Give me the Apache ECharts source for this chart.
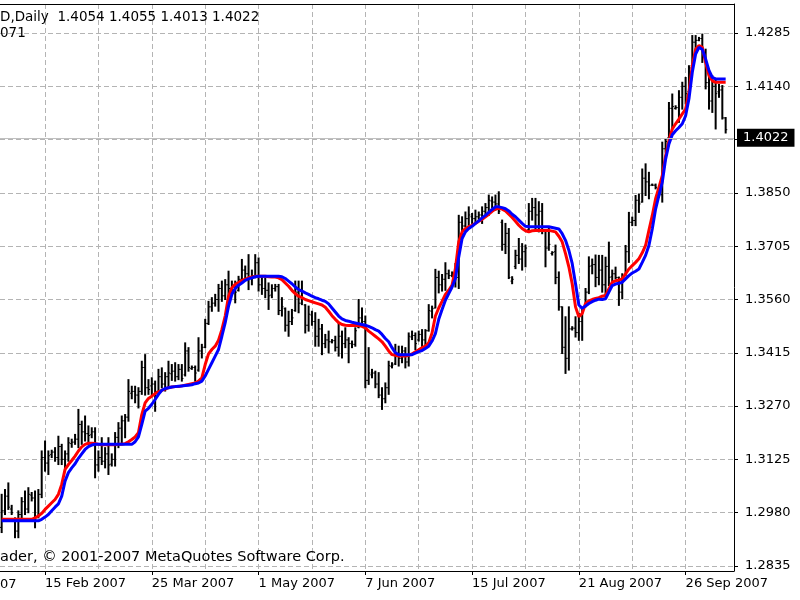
<!DOCTYPE html>
<html><head><meta charset="utf-8">
<script src="https://cdn.jsdelivr.net/npm/echarts@6/dist/echarts.min.js"></script>
<style>html,body{margin:0;padding:0;background:#fff}#c{width:800px;height:600px}</style>
</head><body><div id="c"></div>
<script>
// ---- data (EURUSD daily) ----
const opens = [
1.2940,1.2985,1.3025,1.2990,1.2960,1.2930,1.2975,1.3010,1.2990,1.3028,
1.3020,1.2970,1.3030,1.3130,1.3115,1.3138,1.3145,1.3130,1.3160,1.3125,
1.3140,1.3168,1.3172,1.3180,1.3220,1.3200,1.3195,1.3192,1.3200,1.3110,
1.3130,1.3120,1.3140,1.3112,1.3125,1.3185,1.3210,1.3230,1.3240,1.3305,
1.3310,1.3300,1.3310,1.3375,1.3320,1.3325,1.3330,1.3310,1.3350,1.3330,
1.3350,1.3358,1.3365,1.3350,1.3370,1.3355,1.3420,1.3372,1.3375,1.3368,
1.3420,1.3430,1.3495,1.3540,1.3550,1.3560,1.3590,1.3570,1.3600,1.3590,
1.3598,1.3585,1.3615,1.3640,1.3630,1.3618,1.3625,1.3660,1.3600,1.3590,
1.3585,1.3572,1.3590,1.3595,1.3530,1.3535,1.3490,1.3500,1.3530,1.3580,
1.3550,1.3545,1.3490,1.3518,1.3500,1.3460,1.3480,1.3440,1.3450,1.3445,
1.3448,1.3430,1.3460,1.3440,1.3450,1.3440,1.3438,1.3485,1.3510,1.3500,
1.3340,1.3355,1.3360,1.3330,1.3300,1.3290,1.3320,1.3378,1.3385,1.3410,
1.3400,1.3420,1.3390,1.3458,1.3462,1.3450,1.3465,1.3450,1.3475,1.3528,
1.3537,1.3620,1.3600,1.3615,1.3630,1.3625,1.3630,1.3620,1.3770,1.3760,
1.3780,1.3785,1.3780,1.3785,1.3790,1.3800,1.3810,1.3828,1.3825,1.3820,
1.3770,1.3710,1.3740,1.3610,1.3650,1.3680,1.3670,1.3690,1.3750,1.3800,
1.3810,1.3790,1.3800,1.3748,1.3700,1.3685,1.3690,1.3620,1.3540,1.3430,
1.3400,1.3480,1.3482,1.3470,1.3500,1.3540,1.3580,1.3652,1.3655,1.3620,
1.3640,1.3600,1.3650,1.3622,1.3630,1.3620,1.3580,1.3625,1.3690,1.3770,
1.3775,1.3830,1.3825,1.3890,1.3880,1.3872,1.3871,1.3860,1.3845,1.3970,
1.4000,1.4080,1.4080,1.4082,1.4110,1.4140,1.4125,1.4196,1.4260,1.4265,
1.4270,1.4220,1.4150,1.4100,1.4140,1.4125,1.4130,1.4054];
const highs = [
1.3030,1.3043,1.3061,1.3000,1.2966,1.2985,1.3021,1.3039,1.3048,1.3035,
1.3039,1.3043,1.3148,1.3175,1.3148,1.3150,1.3157,1.3188,1.3166,1.3148,
1.3184,1.3180,1.3193,1.3261,1.3229,1.3243,1.3216,1.3211,1.3211,1.3148,
1.3184,1.3157,1.3184,1.3140,1.3198,1.3225,1.3243,1.3247,1.3342,1.3324,
1.3324,1.3320,1.3392,1.3410,1.3342,1.3347,1.3338,1.3370,1.3374,1.3361,
1.3392,1.3383,1.3388,1.3383,1.3383,1.3442,1.3429,1.3379,1.3379,1.3456,
1.3438,1.3506,1.3555,1.3565,1.3574,1.3601,1.3610,1.3614,1.3637,1.3610,
1.3610,1.3623,1.3669,1.3651,1.3682,1.3640,1.3682,1.3673,1.3623,1.3619,
1.3605,1.3600,1.3601,1.3601,1.3565,1.3537,1.3528,1.3533,1.3610,1.3610,
1.3610,1.3546,1.3542,1.3528,1.3524,1.3506,1.3492,1.3465,1.3474,1.3451,
1.3460,1.3497,1.3474,1.3483,1.3456,1.3447,1.3483,1.3560,1.3537,1.3515,
1.3429,1.3370,1.3365,1.3361,1.3320,1.3333,1.3392,1.3388,1.3438,1.3433,
1.3433,1.3429,1.3469,1.3474,1.3469,1.3474,1.3478,1.3478,1.3546,1.3542,
1.3642,1.3637,1.3628,1.3660,1.3640,1.3635,1.3658,1.3789,1.3785,1.3798,
1.3812,1.3794,1.3803,1.3798,1.3812,1.3821,1.3844,1.3839,1.3844,1.3853,
1.3776,1.3767,1.3753,1.3622,1.3694,1.3726,1.3712,1.3708,1.3821,1.3835,
1.3835,1.3826,1.3821,1.3748,1.3758,1.3690,1.3708,1.3635,1.3540,1.3513,
1.3540,1.3486,1.3513,1.3522,1.3536,1.3590,1.3676,1.3670,1.3681,1.3680,
1.3680,1.3675,1.3716,1.3640,1.3648,1.3621,1.3630,1.3707,1.3797,1.3784,
1.3843,1.3847,1.3915,1.3929,1.3906,1.3874,1.3874,1.3861,1.3988,1.3997,
1.4096,1.4119,1.4087,1.4128,1.4151,1.4164,1.4196,1.4278,1.4278,1.4273,
1.4282,1.4241,1.4178,1.4169,1.4160,1.4145,1.4142,1.4055];
const lows = [
1.2926,1.2975,1.2989,1.2975,1.2912,1.2912,1.2962,1.2975,1.2980,1.3012,
1.2939,1.2966,1.3021,1.3093,1.3084,1.3130,1.3120,1.3111,1.3111,1.3102,
1.3120,1.3158,1.3166,1.3157,1.3166,1.3175,1.3166,1.3184,1.3075,1.3093,
1.3111,1.3102,1.3084,1.3107,1.3107,1.3157,1.3166,1.3184,1.3229,1.3290,
1.3279,1.3265,1.3302,1.3300,1.3302,1.3300,1.3256,1.3302,1.3320,1.3311,
1.3320,1.3340,1.3338,1.3342,1.3338,1.3352,1.3365,1.3370,1.3338,1.3365,
1.3401,1.3429,1.3492,1.3528,1.3542,1.3528,1.3555,1.3560,1.3542,1.3574,
1.3551,1.3583,1.3610,1.3614,1.3587,1.3600,1.3619,1.3583,1.3574,1.3565,
1.3533,1.3565,1.3583,1.3519,1.3515,1.3474,1.3460,1.3492,1.3528,1.3524,
1.3546,1.3469,1.3474,1.3490,1.3433,1.3433,1.3410,1.3429,1.3415,1.3442,
1.3420,1.3406,1.3401,1.3429,1.3388,1.3429,1.3433,1.3483,1.3492,1.3320,
1.3329,1.3347,1.3320,1.3293,1.3261,1.3279,1.3302,1.3374,1.3383,1.3379,
1.3388,1.3374,1.3379,1.3451,1.3424,1.3447,1.3424,1.3429,1.3474,1.3510,
1.3537,1.3578,1.3583,1.3585,1.3617,1.3622,1.3594,1.3590,1.3726,1.3758,
1.3758,1.3767,1.3771,1.3776,1.3767,1.3785,1.3789,1.3810,1.3803,1.3794,
1.3694,1.3685,1.3617,1.3603,1.3644,1.3658,1.3640,1.3649,1.3748,1.3776,
1.3748,1.3744,1.3739,1.3649,1.3694,1.3681,1.3603,1.3531,1.3413,1.3359,
1.3368,1.3477,1.3458,1.3449,1.3449,1.3540,1.3576,1.3630,1.3595,1.3600,
1.3580,1.3571,1.3598,1.3600,1.3616,1.3544,1.3562,1.3625,1.3661,1.3761,
1.3761,1.3797,1.3825,1.3843,1.3834,1.3870,1.3861,1.3838,1.3825,1.3961,
1.3997,1.4024,1.4078,1.4042,1.4078,1.4092,1.4124,1.4196,1.4232,1.4264,
1.4205,1.4133,1.4078,1.4069,1.4024,1.4110,1.4051,1.4013];
const closes = [
1.2985,1.3025,1.2995,1.2980,1.2930,1.2975,1.3010,1.2990,1.3030,1.3020,
1.2960,1.3030,1.3130,1.3115,1.3135,1.3145,1.3130,1.3160,1.3125,1.3140,
1.3170,1.3172,1.3180,1.3220,1.3200,1.3195,1.3190,1.3200,1.3110,1.3130,
1.3120,1.3140,1.3110,1.3125,1.3185,1.3210,1.3230,1.3240,1.3310,1.3310,
1.3300,1.3310,1.3375,1.3320,1.3315,1.3330,1.3310,1.3350,1.3330,1.3350,
1.3360,1.3365,1.3350,1.3370,1.3345,1.3420,1.3375,1.3375,1.3360,1.3420,
1.3430,1.3495,1.3540,1.3550,1.3560,1.3590,1.3570,1.3600,1.3590,1.3598,
1.3580,1.3615,1.3640,1.3630,1.3620,1.3625,1.3660,1.3600,1.3590,1.3585,
1.3570,1.3590,1.3595,1.3530,1.3540,1.3490,1.3500,1.3510,1.3580,1.3550,
1.3560,1.3490,1.3520,1.3500,1.3460,1.3480,1.3440,1.3450,1.3445,1.3448,
1.3430,1.3460,1.3440,1.3450,1.3440,1.3438,1.3475,1.3510,1.3500,1.3340,
1.3360,1.3360,1.3330,1.3300,1.3290,1.3320,1.3380,1.3382,1.3410,1.3400,
1.3420,1.3390,1.3460,1.3462,1.3440,1.3465,1.3450,1.3475,1.3530,1.3535,
1.3620,1.3600,1.3615,1.3630,1.3625,1.3630,1.3620,1.3770,1.3760,1.3780,
1.3790,1.3780,1.3785,1.3790,1.3800,1.3810,1.3830,1.3825,1.3820,1.3800,
1.3710,1.3740,1.3620,1.3615,1.3680,1.3670,1.3690,1.3700,1.3800,1.3810,
1.3790,1.3800,1.3750,1.3700,1.3710,1.3688,1.3620,1.3540,1.3430,1.3400,
1.3480,1.3482,1.3470,1.3500,1.3530,1.3580,1.3650,1.3655,1.3620,1.3640,
1.3600,1.3650,1.3620,1.3630,1.3620,1.3580,1.3620,1.3690,1.3770,1.3775,
1.3830,1.3820,1.3890,1.3880,1.3870,1.3871,1.3865,1.3845,1.3970,1.3990,
1.4080,1.4085,1.4082,1.4110,1.4140,1.4120,1.4190,1.4260,1.4265,1.4270,
1.4220,1.4150,1.4100,1.4140,1.4120,1.4130,1.4054,1.4022];
const maRed = [
1.2962,1.2962,1.2962,1.2962,1.2962,1.2962,1.2962,1.2962,1.2962,1.2962,
1.2966,1.2971,1.2978,1.2989,1.2998,1.3007,1.3016,1.3030,1.3057,1.3098,
1.3111,1.3122,1.3134,1.3148,1.3159,1.3166,1.3169,1.3169,1.3168,1.3166,
1.3165,1.3165,1.3165,1.3165,1.3165,1.3166,1.3166,1.3168,1.3173,1.3179,
1.3186,1.3198,1.3247,1.3279,1.3291,1.3297,1.3304,1.3309,1.3313,1.3316,
1.3320,1.3322,1.3323,1.3323,1.3325,1.3327,1.3329,1.3331,1.3333,1.3338,
1.3347,1.3383,1.3412,1.3424,1.3433,1.3449,1.3478,1.3515,1.3569,1.3592,
1.3601,1.3606,1.3612,1.3615,1.3619,1.3621,1.3623,1.3623,1.3623,1.3623,
1.3622,1.3621,1.3621,1.3619,1.3614,1.3605,1.3596,1.3585,1.3576,1.3569,
1.3565,1.3560,1.3557,1.3554,1.3551,1.3548,1.3545,1.3539,1.3528,1.3516,
1.3506,1.3497,1.3492,1.3490,1.3489,1.3489,1.3489,1.3489,1.3487,1.3483,
1.3474,1.3467,1.3460,1.3453,1.3445,1.3433,1.3420,1.3410,1.3408,1.3406,
1.3406,1.3406,1.3408,1.3412,1.3418,1.3423,1.3429,1.3433,1.3442,1.3469,
1.3515,1.3537,1.3555,1.3574,1.3585,1.3599,1.3644,1.3717,1.3744,1.3753,
1.3758,1.3762,1.3767,1.3773,1.3778,1.3785,1.3792,1.3800,1.3806,1.3808,
1.3806,1.3801,1.3792,1.3783,1.3773,1.3762,1.3753,1.3747,1.3744,1.3747,
1.3748,1.3748,1.3748,1.3748,1.3748,1.3746,1.3744,1.3732,1.3717,1.3685,
1.3649,1.3603,1.3540,1.3513,1.3522,1.3549,1.3556,1.3560,1.3563,1.3565,
1.3569,1.3571,1.3589,1.3607,1.3611,1.3613,1.3616,1.3630,1.3643,1.3652,
1.3661,1.3671,1.3687,1.3707,1.3748,1.3788,1.3834,1.3865,1.3897,1.3951,
1.3992,1.4024,1.4038,1.4051,1.4065,1.4078,1.4124,1.4196,1.4241,1.4251,
1.4246,1.4205,1.4169,1.4155,1.4151,1.4151,1.4151,1.4151];
const maBlue = [
1.2958,1.2958,1.2958,1.2958,1.2958,1.2958,1.2958,1.2958,1.2958,1.2958,
1.2958,1.2958,1.2962,1.2968,1.2975,1.2985,1.2995,1.3004,1.3025,1.3066,
1.3089,1.3102,1.3113,1.3128,1.3140,1.3152,1.3160,1.3164,1.3166,1.3166,
1.3166,1.3166,1.3166,1.3166,1.3166,1.3166,1.3166,1.3166,1.3166,1.3166,
1.3173,1.3186,1.3220,1.3256,1.3264,1.3275,1.3288,1.3302,1.3313,1.3318,
1.3320,1.3322,1.3323,1.3324,1.3325,1.3326,1.3327,1.3328,1.3331,1.3333,
1.3338,1.3352,1.3370,1.3388,1.3406,1.3424,1.3460,1.3497,1.3542,1.3574,
1.3590,1.3599,1.3605,1.3612,1.3616,1.3619,1.3622,1.3623,1.3623,1.3623,
1.3623,1.3623,1.3623,1.3623,1.3622,1.3617,1.3610,1.3603,1.3594,1.3587,
1.3583,1.3578,1.3574,1.3569,1.3565,1.3562,1.3558,1.3555,1.3548,1.3537,
1.3526,1.3515,1.3507,1.3503,1.3501,1.3498,1.3496,1.3494,1.3492,1.3490,
1.3487,1.3483,1.3478,1.3474,1.3465,1.3454,1.3445,1.3429,1.3415,1.3410,
1.3410,1.3410,1.3410,1.3410,1.3414,1.3418,1.3421,1.3427,1.3433,1.3447,
1.3467,1.3506,1.3533,1.3558,1.3576,1.3594,1.3617,1.3676,1.3726,1.3744,
1.3753,1.3759,1.3767,1.3774,1.3782,1.3789,1.3797,1.3805,1.3812,1.3812,
1.3810,1.3807,1.3801,1.3792,1.3785,1.3776,1.3767,1.3759,1.3758,1.3758,
1.3758,1.3758,1.3758,1.3758,1.3758,1.3756,1.3754,1.3752,1.3739,1.3721,
1.3694,1.3658,1.3603,1.3545,1.3536,1.3542,1.3549,1.3554,1.3558,1.3561,
1.3560,1.3562,1.3580,1.3598,1.3602,1.3604,1.3607,1.3616,1.3625,1.3632,
1.3637,1.3643,1.3661,1.3680,1.3707,1.3752,1.3806,1.3843,1.3879,1.3942,
1.3983,1.4008,1.4019,1.4028,1.4038,1.4060,1.4106,1.4178,1.4228,1.4246,
1.4240,1.4214,1.4183,1.4164,1.4160,1.4160,1.4160,1.4160];
const yTicks = [1.2835,1.2980,1.3125,1.3270,1.3415,1.3560,1.3705,1.3850,1.3995,1.4140,1.4285];
const labelDates = ['2007-02-15','2007-03-25','2007-05-01','2007-06-07','2007-07-15','2007-08-21','2007-09-26'];
const extraTradingDays = ['2007-09-22'];
const lastPrice = 1.4022;
const headerText = 'D,Daily  1.4054 1.4055 1.4013 1.4022';
const headerText2 = '071';
const footerText = 'ader, \u00a9 2001-2007 MetaQuotes Software Corp.';
const firstLabelTail = '07';

// trading-day categories (Sunday..Friday bars), 220 slots incl. chart shift
const categories = (function () {
  const out = [];
  const d = new Date(Date.UTC(2007, 0, 31));
  while (out.length < 220) {
    const iso = d.toISOString().slice(0, 10);
    if (d.getUTCDay() !== 6 || extraTradingDays.indexOf(iso) >= 0) out.push(iso);
    d.setUTCDate(d.getUTCDate() + 1);
  }
  return out;
})();
const MONTHS = ['Jan','Feb','Mar','Apr','May','Jun','Jul','Aug','Sep','Oct','Nov','Dec'];
function fmtDate(iso) { const p = iso.split('-'); return (+p[2]) + ' ' + MONTHS[+p[1] - 1] + ' ' + p[0]; }
const labelIdx = labelDates.map(d => categories.indexOf(d));
const gridIdx = [];
for (let k = labelIdx[0]; k < categories.length; k += 16) gridIdx.push(k);

const barData = opens.map((o, i) => [i, o, highs[i], lows[i], closes[i]]);
const redData = maRed.map((v, i) => [i, v]);
const blueData = maBlue.map((v, i) => [i, v]);

const FONT = '"DejaVu Sans", Verdana, sans-serif';
const gridColor = '#b4b4b4';
const chart = echarts.init(document.getElementById('c'), null, { renderer: 'canvas' });
chart.setOption({
  animation: false,
  backgroundColor: '#fff',
  textStyle: { fontFamily: FONT },
  grid: { left: 0, right: 66, top: 4, bottom: 29, containLabel: false },
  xAxis: [{
    type: 'value', min: -0.5, max: categories.length - 0.5, position: 'bottom',
    axisLine: { show: true, onZero: false, lineStyle: { color: '#000', width: 1 } },
    axisTick: { show: true, length: 4, lineStyle: { color: '#000' }, customValues: labelIdx },
    axisLabel: { show: true, customValues: labelIdx, align: 'left', margin: 6, color: '#000', fontSize: 13, fontFamily: FONT,
      formatter: v => fmtDate(categories[Math.round(v)]) },
    splitLine: { show: false }
  }, {
    type: 'value', min: -0.5, max: categories.length - 0.5, position: 'top',
    axisLine: { show: true, onZero: false, lineStyle: { color: '#000', width: 1 } },
    axisTick: { show: false, customValues: gridIdx },
    axisLabel: { show: false, customValues: gridIdx },
    splitLine: { show: true, lineStyle: { color: gridColor, type: [5, 3], width: 1 } }
  }],
  yAxis: {
    type: 'value', position: 'right', min: 1.28214, max: 1.43639, scale: true,
    axisLine: { show: true, onZero: false, lineStyle: { color: '#000', width: 1 } },
    axisTick: { show: true, length: 4, lineStyle: { color: '#000' }, customValues: yTicks },
    axisLabel: { show: true, customValues: yTicks, margin: 11, color: '#000', fontSize: 13, fontFamily: FONT,
      formatter: v => v.toFixed(4) },
    splitLine: { show: true, lineStyle: { color: gridColor, type: [5, 3], width: 1 } }
  },
  series: [{
    type: 'custom', name: 'bars', xAxisIndex: 0, data: barData,
    encode: { x: 0, y: [1, 2, 3, 4] },
    renderItem: function (params, api) {
      const i = api.value(0);
      const pO = api.coord([i, api.value(1)]);
      const pH = api.coord([i, api.value(2)]);
      const pL = api.coord([i, api.value(3)]);
      const pC = api.coord([i, api.value(4)]);
      const x = pH[0];
      const st = { stroke: '#000', lineWidth: 2 };
      return { type: 'group', children: [
        { type: 'line', shape: { x1: x, y1: pH[1] - 0.5, x2: x, y2: pL[1] + 0.5 }, style: st },
        { type: 'line', shape: { x1: x - 1.6, y1: pO[1], x2: x, y2: pO[1] }, style: { stroke: '#000', lineWidth: 1 } },
        { type: 'line', shape: { x1: x, y1: pC[1], x2: x + 1.6, y2: pC[1] }, style: { stroke: '#000', lineWidth: 1 } }
      ] };
    },
    markLine: {
      silent: true, symbol: 'none', animation: false,
      data: [{ yAxis: lastPrice }],
      lineStyle: { color: '#c0c0c0', type: 'solid', width: 1 },
      label: { show: true, position: 'end', distance: 3, formatter: lastPrice.toFixed(4),
        color: '#fff', backgroundColor: '#000', padding: [3, 6, 2, 6], fontSize: 13, fontFamily: FONT }
    }
  }, {
    type: 'line', name: 'red', xAxisIndex: 0, data: redData, symbol: 'none', smooth: false,
    lineStyle: { color: '#ff0000', width: 3 }, z: 3
  }, {
    type: 'line', name: 'blue', xAxisIndex: 0, data: blueData, symbol: 'none', smooth: false,
    lineStyle: { color: '#0000ff', width: 3 }, z: 4
  }],
  graphic: [
    { type: 'text', left: 0, top: 10, z: 10, style: { text: headerText, font: '13.5px ' + FONT, fill: '#000' } },
    { type: 'text', left: 0, top: 26, z: 10, style: { text: headerText2, font: '13.5px ' + FONT, fill: '#000' } },
    { type: 'text', left: 0, top: 550, z: 10, style: { text: footerText, font: '14.5px ' + FONT, fill: '#000' } },
    { type: 'text', left: 0, top: 578, z: 10, style: { text: firstLabelTail, font: '13px ' + FONT, fill: '#000' } }
  ]
});
</script>
</body></html>
